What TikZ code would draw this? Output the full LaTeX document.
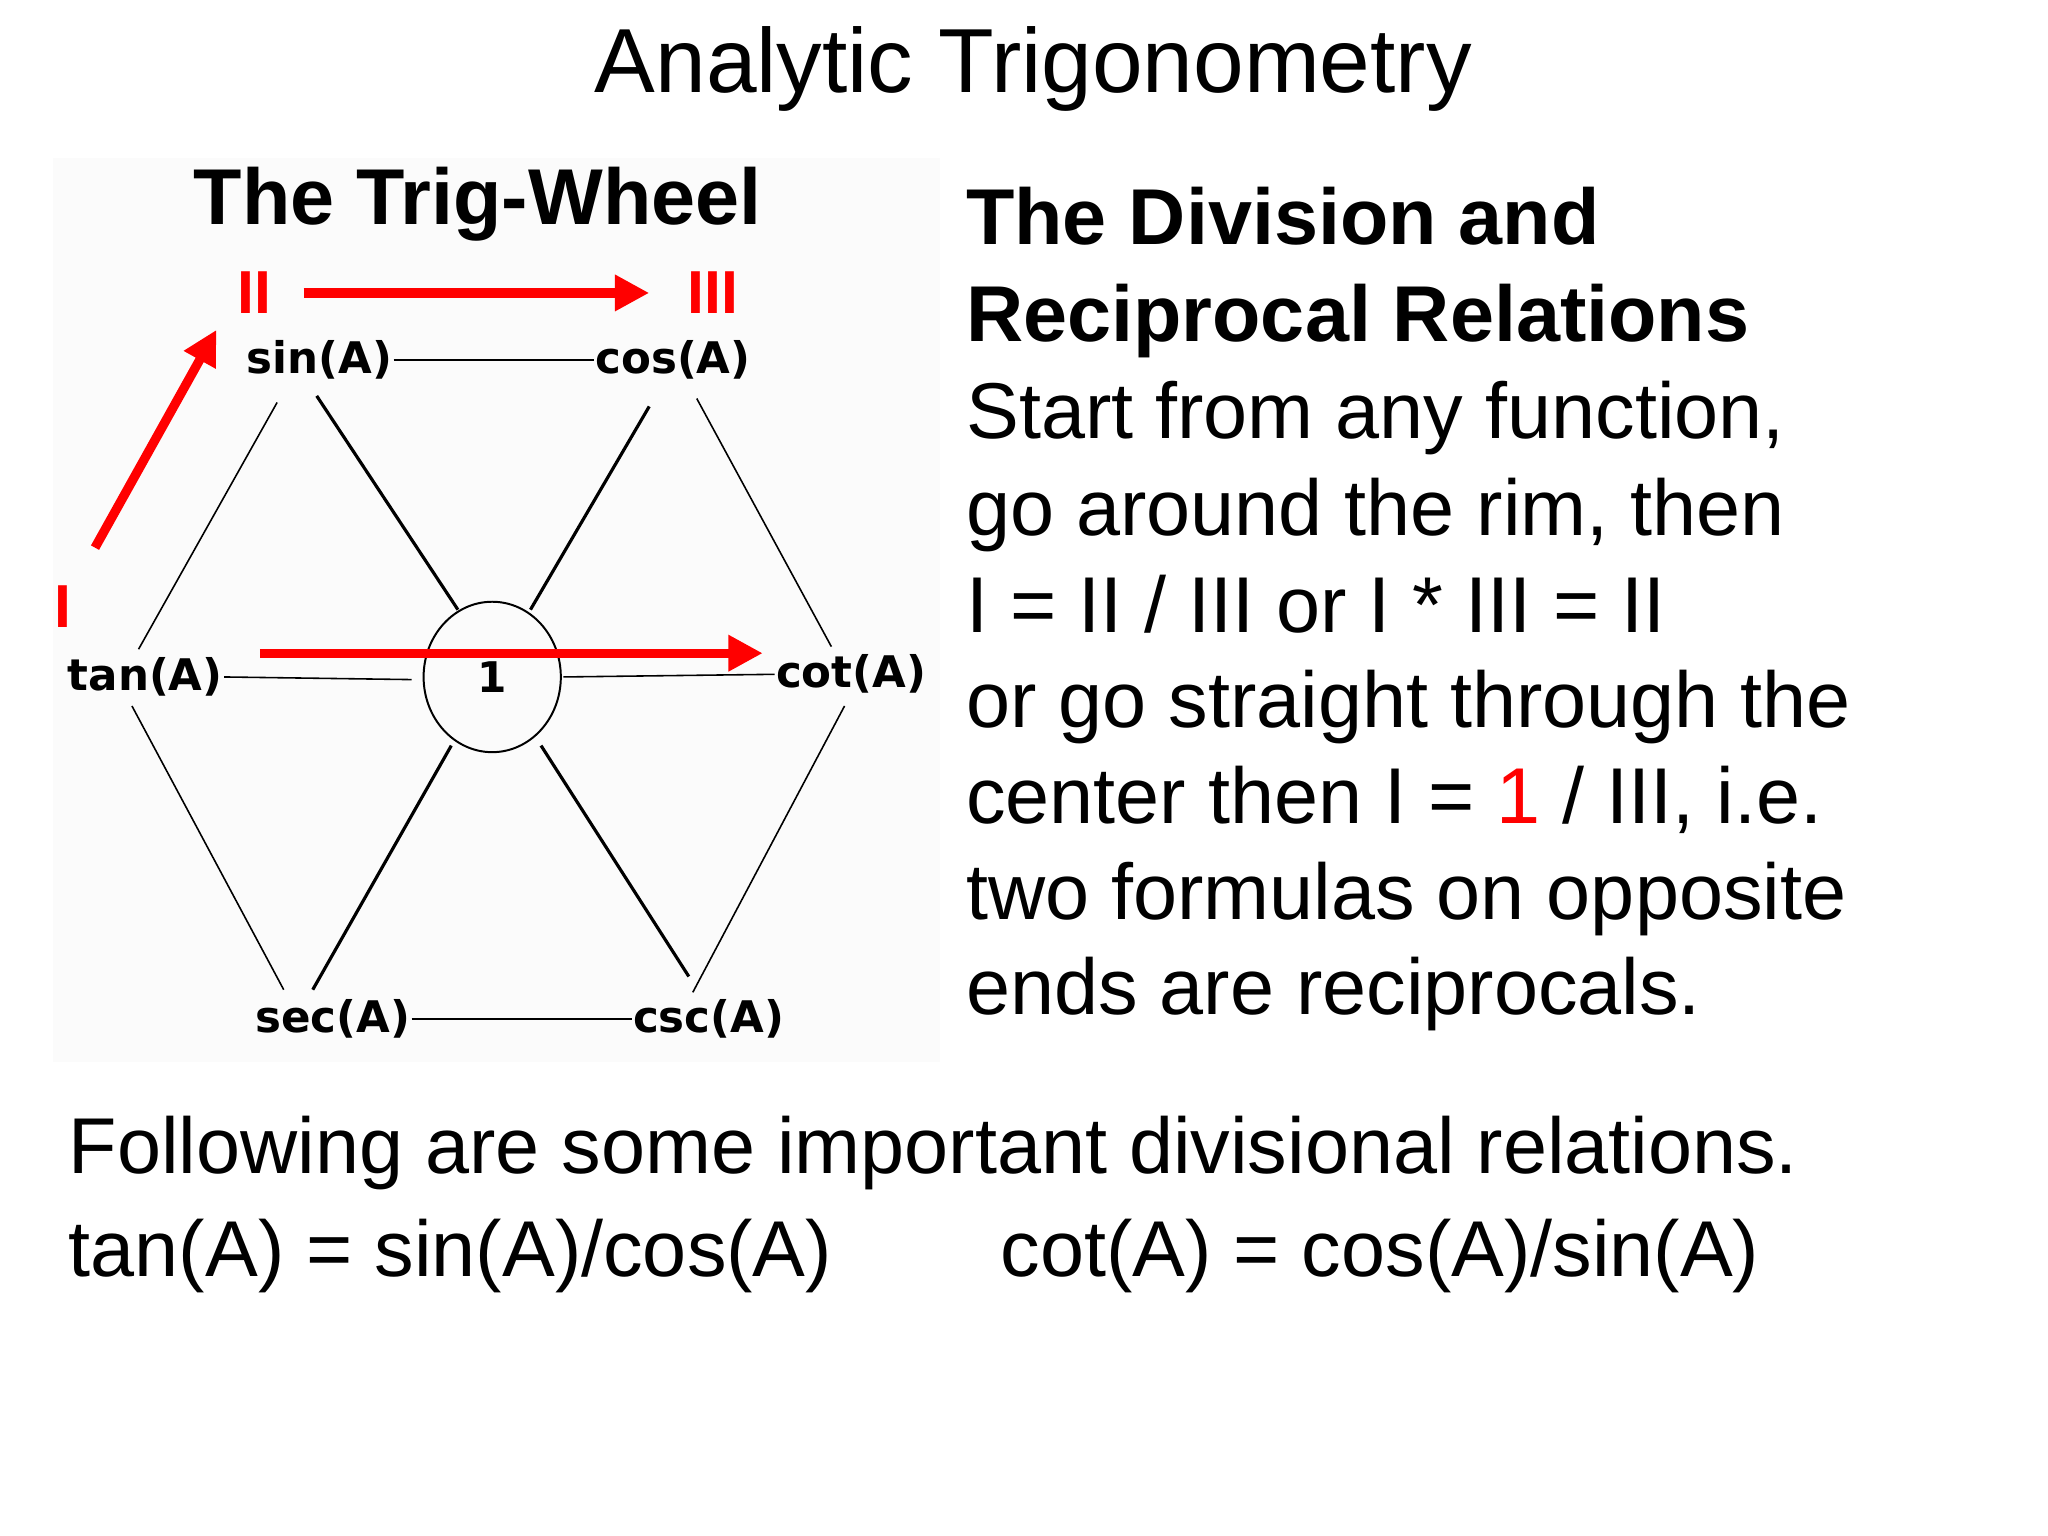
\documentclass[tikz,border=0pt]{standalone}
\usepackage{fontspec}
\setmainfont{Liberation Sans}
\newfontfamily\wheelfont{DejaVu Sans}
\usetikzlibrary{arrows.meta}
\begin{document}
\begin{tikzpicture}[x=1pt,y=-1pt,
  txt/.style={anchor=base west,inner sep=0pt,font=\fontsize{60}{66}\selectfont},
  fn/.style={font=\wheelfont\bfseries\fontsize{33}{38}\selectfont,inner sep=1pt},
  rim/.style={line width=1.2pt,black},
  spoke/.style={line width=2.4pt,black},
  redarr/.style={red,line width=7pt,-{Triangle[length=26pt,width=26pt]}},
  rlab/.style={red,font=\bfseries\fontsize{46}{50}\selectfont,inner sep=0pt}]
\useasboundingbox (0,0) rectangle (1552,1164);
\fill[white] (0,0) rectangle (1552,1164);
\fill[gray!3] (40,120) rectangle (712,805);
\node[inner sep=0pt,font=\fontsize{69}{76}\selectfont] (title) at (783,52) {Analytic Trigonometry};
\node[inner sep=0pt,anchor=base,font=\bfseries\fontsize{60}{66}\selectfont] (tw) at (362,170) {The Trig-Wheel};
% wheel nodes
\node[fn] (sin) at (242,273) {sin(A)};
\node[fn] (cos) at (510,273) {cos(A)};
\node[fn] (tan) at (110,513) {tan(A)};
\node[fn] (cot) at (645,511) {cot(A)};
\node[fn] (sec) at (252,772) {sec(A)};
\node[fn] (csc) at (537,772) {csc(A)};
\draw[line width=1.5pt] (373,513) ellipse (52 and 57);
\node[font=\wheelfont\bfseries\fontsize{32}{38}\selectfont,inner sep=0pt] (one) at (373,513) {1};
\draw[rim] (sin.east) -- (cos.west);
\draw[rim] (sec.east) -- (csc.west);
\draw[rim] (tan.east) -- (312,515);
\draw[rim] (427,513) -- (cot.west);
\draw[rim] (210,305) -- (105,492);
\draw[rim] (100,535) -- (215,750);
\draw[rim] (528,302) -- (630,490);
\draw[rim] (640,535) -- (525,752);
\draw[spoke] (240,300) -- (347,462);
\draw[spoke] (492,308) -- (402,462);
\draw[spoke] (237,750) -- (342,565);
\draw[spoke] (522,740) -- (410,565);
% red arrows
\coordinate (a1) at (72,415); \coordinate (a2) at (164,250);
\coordinate (b1) at (230,222); \coordinate (b2) at (492,222);
\coordinate (c1) at (197,495); \coordinate (c2) at (578,495);
\draw[redarr] (a1) -- (a2);
\draw[redarr] (b1) -- (b2);
\draw[redarr] (c1) -- (c2);
\node[rlab] (l1) at (48,460) {I};
\node[rlab] (l2) at (193,222) {II};
\node[rlab] (l3) at (540,222) {III};
% right text
\node[txt,font=\bfseries\fontsize{60}{66}\selectfont] (r1) at (732,185) {The Division and};
\node[txt,font=\bfseries\fontsize{60}{66}\selectfont] (r2) at (732,259) {Reciprocal Relations};
\node[txt] (r3) at (732,332) {Start from any function,};
\node[txt] (r4) at (732,406) {go around the rim, then};
\node[txt] (r5) at (732,479) {I = II / III or I * III = II};
\node[txt] (r6) at (732,551) {or go straight through the};
\node[txt] (r7) at (732,624) {center then I = \textcolor{red}{1} / III, i.e.};
\node[txt] (r8) at (732,697) {two formulas on opposite};
\node[txt] (r9) at (732,769) {ends are reciprocals.};
\node[txt] (b1t) at (52,889) {Following are some important divisional relations.};
\node[txt] (b2t) at (52,967) {tan(A) = sin(A)/cos(A)};
\node[txt] (b3t) at (758,967) {cot(A) = cos(A)/sin(A)};
\end{tikzpicture}
\end{document}
